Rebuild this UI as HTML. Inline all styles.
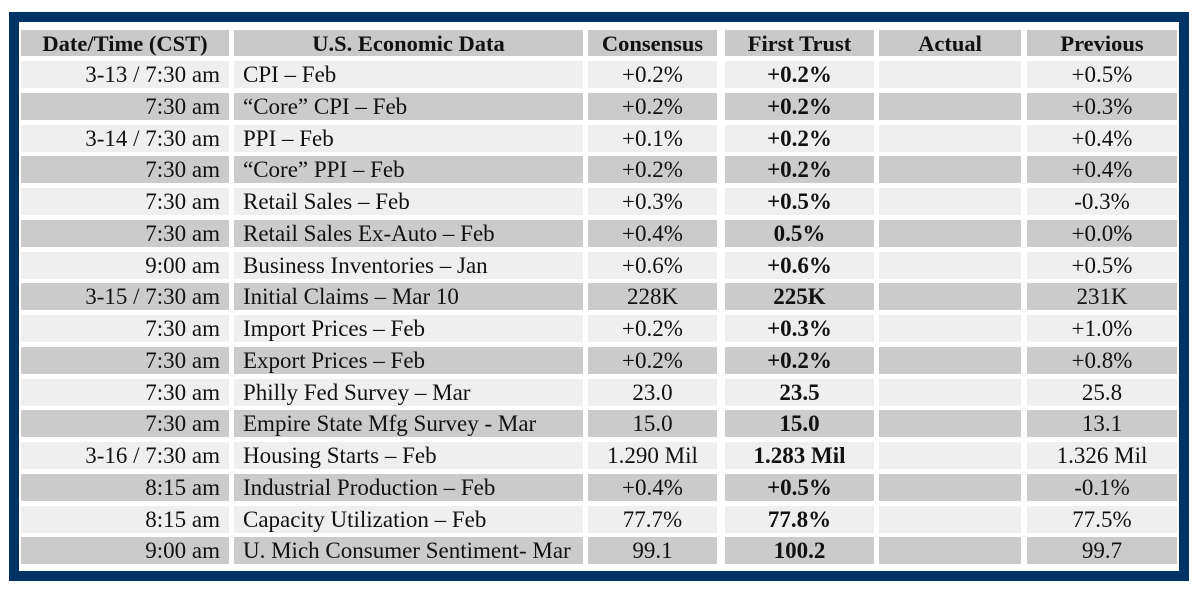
<!DOCTYPE html>
<html><head><meta charset="utf-8"><style>
body{margin:0;width:1200px;height:592px;background:#fff;position:relative;overflow:hidden;font-family:"Liberation Serif",serif;}
#frame{position:absolute;left:9px;top:12px;width:1160px;height:549px;border:10px solid #003466;background:#fff;}
.c{position:absolute;height:27px;line-height:28px;font-size:23px;color:#111;white-space:nowrap;box-sizing:border-box;}
.h{background:#c9c9c9;font-weight:bold;text-align:center;height:26px;line-height:27px;font-size:22.5px;}
.l{background:#efefef}.d{background:#cbcbcb}
.b{font-weight:bold}
</style></head><body>
<div id="frame"></div>
<div id="t"></div>
<script>
const cols=[[21,208,'right','Date/Time (CST)'],[234,349,'left','U.S. Economic Data'],[588,129,'center','Consensus'],[725,149,'center','First Trust'],[879,142,'center','Actual'],[1027,150,'center','Previous']];
const rows=[
['3-13 / 7:30 am','CPI – Feb','+0.2%','+0.2%','','+0.5%'],
['7:30 am','“Core” CPI – Feb','+0.2%','+0.2%','','+0.3%'],
['3-14 / 7:30 am','PPI – Feb','+0.1%','+0.2%','','+0.4%'],
['7:30 am','“Core” PPI – Feb','+0.2%','+0.2%','','+0.4%'],
['7:30 am','Retail Sales – Feb','+0.3%','+0.5%','','-0.3%'],
['7:30 am','Retail Sales Ex-Auto – Feb','+0.4%','0.5%','','+0.0%'],
['9:00 am','Business Inventories – Jan','+0.6%','+0.6%','','+0.5%'],
['3-15 / 7:30 am','Initial Claims – Mar 10','228K','225K','','231K'],
['7:30 am','Import Prices – Feb','+0.2%','+0.3%','','+1.0%'],
['7:30 am','Export Prices – Feb','+0.2%','+0.2%','','+0.8%'],
['7:30 am','Philly Fed Survey – Mar','23.0','23.5','','25.8'],
['7:30 am','Empire State Mfg Survey - Mar','15.0','15.0','','13.1'],
['3-16 / 7:30 am','Housing Starts – Feb','1.290 Mil','1.283 Mil','','1.326 Mil'],
['8:15 am','Industrial Production – Feb','+0.4%','+0.5%','','-0.1%'],
['8:15 am','Capacity Utilization – Feb','77.7%','77.8%','','77.5%'],
['9:00 am','U. Mich Consumer Sentiment- Mar','99.1','100.2','','99.7']];
const t=document.getElementById('t');
cols.forEach((c,i)=>{const e=document.createElement('div');e.className='c h';


e.style.left=c[0]+'px';e.style.top='30px';e.style.width=c[1]+'px';e.textContent=c[3];t.appendChild(e);});
rows.forEach((r,ri)=>{const y=Math.round(61+ri*31.75);
cols.forEach((c,i)=>{const e=document.createElement('div');
e.className='c '+(ri%2?'d':'l')+(i==3?' b':'');


e.style.left=c[0]+'px';e.style.top=y+'px';e.style.width=c[1]+'px';e.style.textAlign=c[2];
if(c[2]=='right')e.style.paddingRight='9px';if(c[2]=='left')e.style.paddingLeft='9px';
e.textContent=r[i];t.appendChild(e);});});
</script>
</body></html>
